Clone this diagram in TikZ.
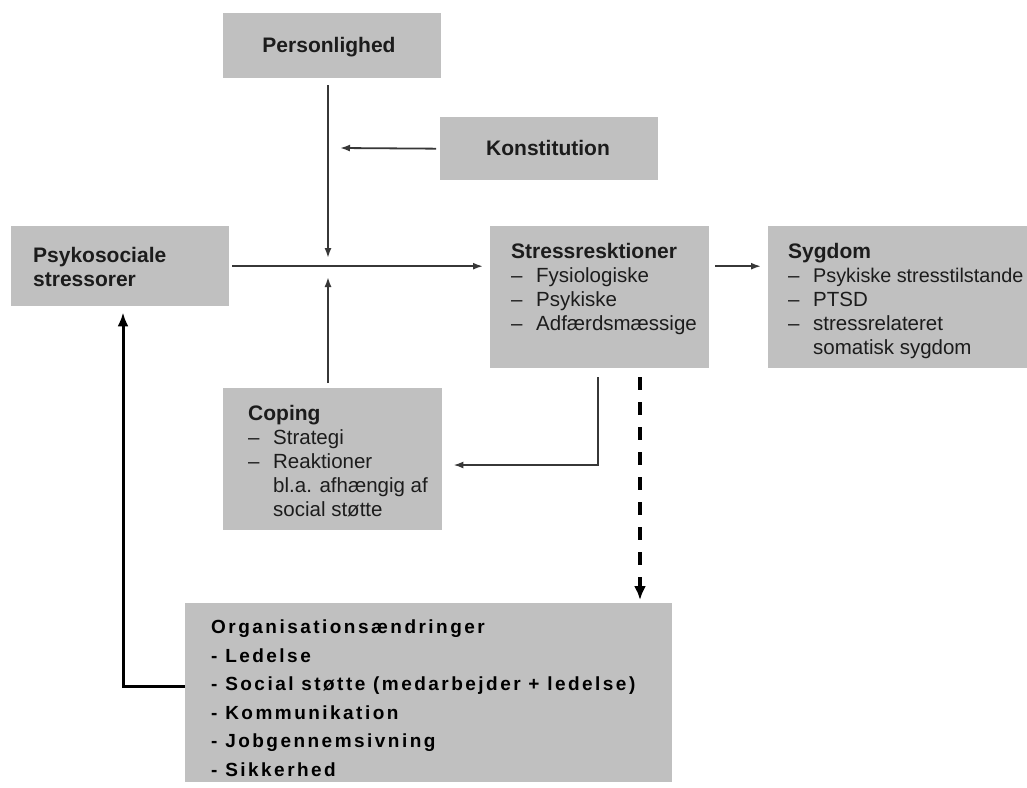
\documentclass[tikz,border=0pt]{standalone}
\usepackage{fontspec}
\setmainfont{Liberation Sans}
\newfontfamily\orgfont[LetterSpace=13]{Liberation Sans}
\usetikzlibrary{arrows.meta}
\definecolor{boxgray}{RGB}{192,192,192}
\definecolor{txtcol}{RGB}{28,28,28}
\definecolor{linecol}{RGB}{55,55,55}
\newcommand{\dsh}{\makebox[25pt][l]{–}}
\newcommand{\ind}{\hspace*{25pt}}
\tikzset{
  box/.style={fill=boxgray, draw=none, inner sep=0pt, anchor=north west},
  txt/.style={text=txtcol, inner sep=0pt, anchor=base west, font=\fontsize{20.5}{24}\selectfont},
  ttl/.style={text=txtcol, inner sep=0pt, anchor=base, font=\fontsize{21}{24}\selectfont\bfseries},
  orgtxt/.style={text=black, inner sep=0pt, anchor=base west, font=\orgfont\bfseries\fontsize{19}{28.5}\selectfont},
  conn/.style={draw=linecol, line width=1.8pt, -{Latex[length=10pt,width=7pt]}},
  dasharrow/.style={draw=black, line width=3.8pt, dash pattern=on 13pt off 12pt, -{Latex[length=14pt,width=12pt]}},
  fbarrow/.style={draw=black, line width=3pt, -{Latex[length=14pt,width=11pt]}}
}
\begin{document}
\begin{tikzpicture}[x=1pt,y=-1pt]
\useasboundingbox (0,0) rectangle (1027,787);
\clip (0,0) rectangle (1027,787);
\fill[white] (0,0) rectangle (1027,787);

% boxes
\node[box, minimum width=218pt, minimum height=65pt] (pers) at (223,13) {};
\node[box, minimum width=218pt, minimum height=63pt] (konst) at (440,117) {};
\node[box, minimum width=218pt, minimum height=80pt] (psy) at (11,226) {};
\node[box, minimum width=219pt, minimum height=142pt] (stress) at (490,226) {};
\node[box, minimum width=280pt, minimum height=142pt] (sygdom) at (768,226) {};
\node[box, minimum width=219pt, minimum height=142pt] (coping) at (223,388) {};
\node[box, minimum width=487pt, minimum height=179pt] (org) at (185,603) {};

% texts
\node[ttl] (perst) at (329,52) {Personlighed};
\node[ttl] (konstt) at (548,155) {Konstitution};
\node[txt] (psyt) at (33,262) {\begin{tabular}[t]{@{}l@{}}{\fontsize{21}{24}\selectfont\bfseries Psykosociale}\\ {\fontsize{21}{24}\selectfont\bfseries stressorer}\end{tabular}};
\node[txt] (stresst) at (511,258) {\begin{tabular}[t]{@{}l@{}}
  {\fontsize{21}{24}\selectfont\bfseries Stressresktioner}\\
  \dsh Fysiologiske\\
  \dsh Psykiske\\
  \dsh Adfærdsmæssige\end{tabular}};
\node[txt] (sygdomt) at (788,258) {\begin{tabular}[t]{@{}l@{}}
  {\fontsize{21}{24}\selectfont\bfseries Sygdom}\\
  \dsh {\fontsize{19.8}{24}\selectfont Psykiske stresstilstande}\\
  \dsh PTSD\\
  \dsh stressrelateret\\
  \ind somatisk sygdom\end{tabular}};
\node[txt] (copingt) at (248,420) {\begin{tabular}[t]{@{}l@{}}
  {\fontsize{21}{24}\selectfont\bfseries Coping}\\
  \dsh Strategi\\
  \dsh Reaktioner\\
  \ind bl.a. afhængig af\\
  \ind social støtte\end{tabular}};
\node[orgtxt] (orgt) at (211,633.5) {\begin{tabular}[t]{@{}l@{}}
  Organisationsændringer\\
  - Ledelse\\
  - Social støtte (medarbejder + ledelse)\\
  - Kommunikation\\
  - Jobgennemsivning\\
  - Sikkerhed\end{tabular}};

% helper coordinates
\coordinate (jtop) at (328,258);
\coordinate (jbot) at (328,277);
\coordinate (kend) at (340,148);
\coordinate (sd) at (598,465);
\coordinate (dx) at (640,0);
\coordinate (fb) at (123,686);

% connectors
\draw[conn, shorten <=7pt] (pers.south -| jtop) -- (jtop);
\draw[conn, shorten <=4pt] (konst.west) -- (kend);
\draw[conn, shorten <=3pt, shorten >=7pt] (psy.east) -- (psy.east -| stress.west);
\draw[conn, shorten <=5pt] (coping.north -| jbot) -- (jbot);
\draw[conn, shorten <=6pt, shorten >=7pt] (stress.east |- psy.east) -- (sygdom.west |- psy.east);
\draw[conn, shorten <=9pt, shorten >=11pt] (stress.south -| sd) |- (coping.east |- sd);
\draw[dasharrow, shorten <=9pt, shorten >=3pt] (stress.south -| dx) -- (org.north -| dx);
\draw[fbarrow, shorten >=6pt] (org.west |- fb) -| (psy.south -| fb);
\end{tikzpicture}
\end{document}
